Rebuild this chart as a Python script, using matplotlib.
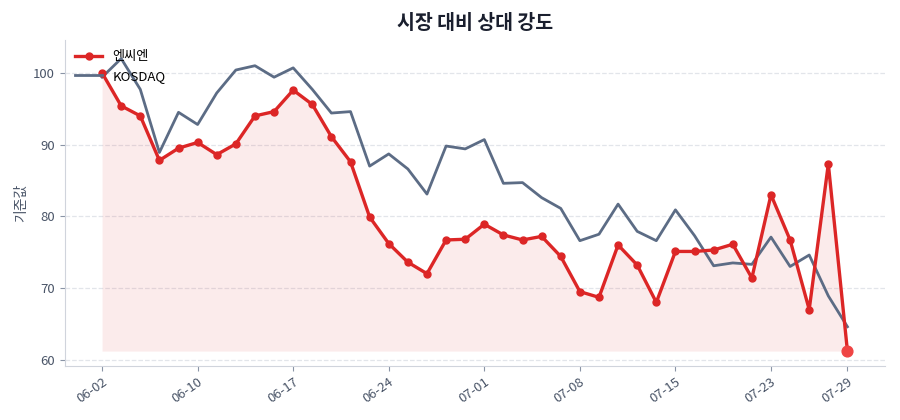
import numpy as np
import matplotlib
matplotlib.use("Agg")
import matplotlib.pyplot as plt

plt.rcParams['font.family'] = ['Noto Sans CJK KR', 'DejaVu Sans']

dates = ["06-02", "06-03", "06-04", "06-05", "06-09", "06-10", "06-11", "06-12",
         "06-13", "06-16", "06-17", "06-18", "06-19", "06-20", "06-23", "06-24",
         "06-25", "06-26", "06-27", "06-30", "07-01", "07-02", "07-03", "07-04",
         "07-07", "07-08", "07-09", "07-10", "07-11", "07-14", "07-15", "07-16",
         "07-17", "07-18", "07-21", "07-23", "07-24", "07-25", "07-28", "07-29"]

stock = [100.0, 95.4, 94.0, 87.8, 89.5, 90.3, 88.6, 90.1, 94.0, 94.6,
         97.6, 95.6, 91.1, 87.6, 79.9, 76.2, 73.6, 72.0, 76.7, 76.8,
         78.9, 77.4, 76.7, 77.2, 74.4, 69.5, 68.7, 76.0, 73.2, 68.0,
         75.1, 75.1, 75.3, 76.1, 71.4, 83.0, 76.7, 67.0, 87.3, 61.2]

kosdaq = [99.4, 102.0, 97.7, 88.9, 94.5, 92.8, 97.2, 100.4, 101.0, 99.4,
          100.7, 97.7, 94.4, 94.6, 87.0, 88.7, 86.6, 83.1, 89.8, 89.4,
          90.7, 84.6, 84.7, 82.6, 81.1, 76.6, 77.5, 81.7, 77.9, 76.6,
          80.9, 77.3, 73.1, 73.5, 73.3, 77.1, 73.0, 74.6, 68.9, 64.6]

red = '#dc2626'
slate = '#5c6c85'

x = np.arange(len(dates))
stock = np.array(stock)

fig, ax = plt.subplots(figsize=(9, 4.2), dpi=100)
fig.subplots_adjust(left=0.072, right=0.983, bottom=0.129, top=0.905)

ax.fill_between(x, stock, stock.min(), color=red, alpha=0.09, linewidth=0)
ax.plot(x, stock, color=red, linewidth=2.4, marker='o', markersize=5, label='엔씨엔', zorder=3)
ax.plot(x, kosdaq, color=slate, linewidth=2.0, label='KOSDAQ', zorder=2)
ax.scatter([x[-1]], [stock[-1]], s=60, color='#ef4444', zorder=4)

ticks = list(range(0, len(dates), 5)) + [len(dates) - 1]
ax.set_xticks(ticks)
ax.set_xticklabels([dates[i] for i in ticks], rotation=35, ha='right', rotation_mode='anchor')
ax.set_yticks([60, 70, 80, 90, 100])
ax.set_ylim(59.15, 104.6)

ax.set_title('시장 대비 상대 강도', fontsize=14, fontweight='bold', color='#1a1f2e', pad=8)
ax.set_ylabel('기준값', fontsize=10, color='#4a5568')

ax.grid(axis='y', linestyle='--', color='#e2e5ea', linewidth=0.9)
ax.set_axisbelow(True)
for side in ['top', 'right']:
    ax.spines[side].set_visible(False)
for side in ['left', 'bottom']:
    ax.spines[side].set_color('#d0d4dc')
ax.tick_params(colors='#4a5568', labelsize=9.5)
ax.tick_params(axis='both', color='#8a94a6')

ax.legend(loc='upper left', frameon=False, fontsize=9.5, borderaxespad=0.4,
          handletextpad=0.8, labelspacing=0.5)

fig.savefig('out.png', dpi=100)
